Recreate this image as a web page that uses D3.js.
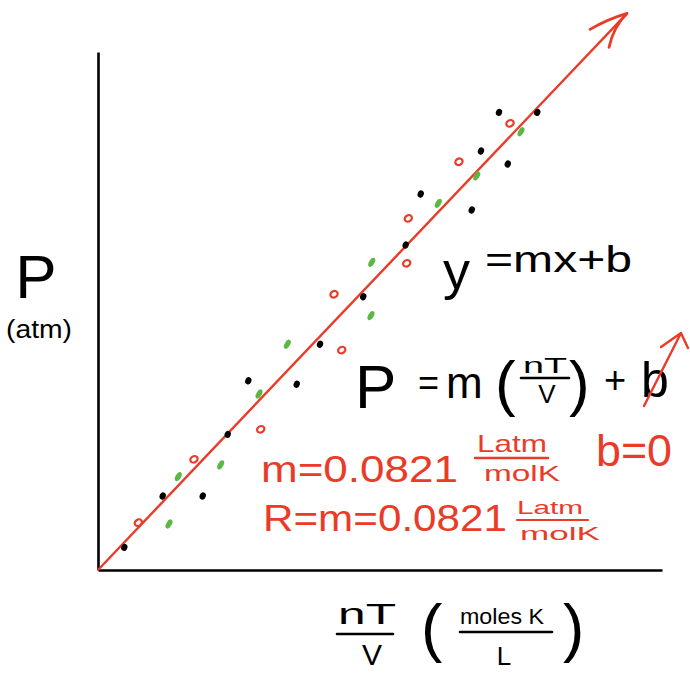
<!DOCTYPE html>
<html>
<head>
<meta charset="utf-8">
<script src="https://cdn.jsdelivr.net/npm/d3@7/dist/d3.min.js"></script>
<style>
  html, body { margin: 0; padding: 0; background: #fff; }
  svg { display: block; }
  text { font-family: "Liberation Sans", "DejaVu Sans", sans-serif; }
</style>
</head>
<body>
<svg id="chart" width="690" height="675"></svg>
<script>
// Measured pressure vs nT/V for three gas samples
const blackX = [28.0, 68.8, 111.4, 138.0, 159.9, 211.4, 236.2, 282.2, 327.3, 343.3, 397.6, 407.4, 435.9, 426.6, 467.3];
const blackY = [1.88, 6.14, 6.14, 11.26, 15.71, 15.42, 18.74, 22.69, 26.98, 31.21, 29.88, 34.78, 33.70, 37.99, 37.99];

const greenX = [75.5, 85.4, 130.5, 171.3, 201.4, 290.4, 291.2, 362.0, 402.9, 450.0];
const greenY = [3.82, 7.75, 8.72, 14.61, 18.74, 21.11, 25.54, 30.44, 32.71, 36.38];

const redX = [42.9, 102.1, 173.1, 259.3, 251.1, 328.4, 330.1, 384.0, 438.3];
const redY = [3.93, 9.19, 11.68, 18.26, 22.89, 25.46, 29.19, 33.89, 37.08];

// Best-fit line P = m (nT/V) + b
const slope = 0.0821;
const intercept = 0;
const fitRange = [0, 562.8];

const RED = "#ea3b28";
const GREEN = "#5cb845";
const BLACK = "#000";

const svg = d3.select("#chart");

const x = d3.scaleLinear().domain([0, 600]).range([98, 662]);
const y = d3.scaleLinear().domain([0, 43]).range([570, 52]);

// Axes: bare lines, no ticks
svg.append("g")
  .attr("transform", `translate(0,${y(0)})`)
  .call(d3.axisBottom(x).tickValues([]).tickSizeOuter(0))
  .select(".domain").attr("stroke", BLACK).attr("stroke-width", 2.6);
svg.append("g")
  .attr("transform", `translate(${x(0)},0)`)
  .call(d3.axisLeft(y).tickValues([]).tickSizeOuter(0))
  .select(".domain").attr("stroke", BLACK).attr("stroke-width", 2.6);

// Fit line with arrow at the end
const fitPts = fitRange.map(v => [v, slope * v + intercept]);
svg.append("path")
  .attr("d", d3.line().x(d => x(d[0])).y(d => y(d[1]))(fitPts))
  .attr("fill", "none").attr("stroke", RED).attr("stroke-width", 2.4);
const tip = [x(fitRange[1]), y(slope * fitRange[1] + intercept)];
svg.append("path")
  .attr("d", `M${tip[0] - 37},${tip[1] + 16} Q${tip[0] - 20},${tip[1] + 6} ${tip[0]},${tip[1]} Q${tip[0] - 14},${tip[1] + 14} ${tip[0] - 18},${tip[1] + 34}`)
  .attr("fill", "none").attr("stroke", RED).attr("stroke-width", 2.8)
  .attr("stroke-linecap", "round").attr("stroke-linejoin", "round");

// Data marks
const zip = (xs, ys) => xs.map((v, i) => [v, ys[i]]);

svg.append("g").selectAll("ellipse")
  .data(zip(greenX, greenY)).join("ellipse")
  .attr("cx", d => x(d[0])).attr("cy", d => y(d[1]))
  .attr("rx", 2.7).attr("ry", 5)
  .attr("transform", d => `rotate(30,${x(d[0])},${y(d[1])})`)
  .attr("fill", GREEN);

svg.append("g").selectAll("ellipse")
  .data(zip(blackX, blackY)).join("ellipse")
  .attr("cx", d => x(d[0])).attr("cy", d => y(d[1]))
  .attr("rx", 3.1).attr("ry", 3.7)
  .attr("transform", d => `rotate(20,${x(d[0])},${y(d[1])})`)
  .attr("fill", BLACK);

svg.append("g").selectAll("ellipse")
  .data(zip(redX, redY)).join("ellipse")
  .attr("cx", d => x(d[0])).attr("cy", d => y(d[1]))
  .attr("rx", 3.8).attr("ry", 3.1)
  .attr("transform", d => `rotate(-30,${x(d[0])},${y(d[1])})`)
  .attr("fill", "none").attr("stroke", RED).attr("stroke-width", 2.2);

// Text helpers
function txt(s, px, py, size, color, opts = {}) {
  const t = svg.append("text")
    .attr("x", px).attr("y", py)
    .attr("font-size", size).attr("fill", color)
    .attr("font-weight", opts.weight || 400)
    .text(s);
  if (opts.len) t.attr("textLength", opts.len).attr("lengthAdjust", "spacingAndGlyphs");
  if (opts.anchor) t.attr("text-anchor", opts.anchor);
  return t;
}
function bar(x1, x2, yy, color, w) {
  svg.append("line").attr("x1", x1).attr("x2", x2).attr("y1", yy).attr("y2", yy)
    .attr("stroke", color).attr("stroke-width", w || 2.6).attr("stroke-linecap", "round");
}

// Y axis label
txt("P", 36, 298, 62, BLACK, { anchor: "middle" });
txt("(atm)", 6, 338, 26, BLACK, { len: 66 });

// X axis label
txt("nT", 338, 624, 30, BLACK, { len: 58 });
bar(337, 393, 634, BLACK);
txt("V", 372, 665, 30, BLACK, { anchor: "middle" });
txt("(", 421, 650, 64, BLACK);
txt("moles K", 460, 624, 22, BLACK, { len: 84 });
bar(460, 552, 632, BLACK);
txt("L", 504, 665, 26, BLACK, { anchor: "middle" });
txt(")", 563, 650, 64, BLACK);

// y = mx + b
txt("y", 443, 289, 54, BLACK);
txt("=mx+b", 485, 272, 36, BLACK, { len: 147 });

// P = m(nT/V) + b
txt("P", 355, 408, 62, BLACK);
txt("=", 418, 395, 36, BLACK);
txt("m", 446, 398, 44, BLACK);
txt("(", 495, 404, 62, BLACK);
txt("nT", 523, 373, 22, BLACK, { len: 44 });
bar(521, 569, 378, BLACK);
txt("V", 547, 403, 26, BLACK, { anchor: "middle" });
txt(")", 569, 404, 62, BLACK);
txt("+", 604, 393, 38, BLACK);
txt("b", 641, 397, 50, BLACK);

// Strike-through arrow over b
svg.append("path")
  .attr("d", "M644,406 L681,333 M661,347 L681,333 L688,348")
  .attr("fill", "none").attr("stroke", RED).attr("stroke-width", 2.4)
  .attr("stroke-linecap", "round").attr("stroke-linejoin", "round");

// Fitted slope annotation
txt("m=0.0821", 261, 482, 36, RED, { len: 197 });
txt("Latm", 477, 452, 24, RED, { len: 70 });
bar(475, 548, 458, RED);
txt("molK", 484, 481, 22, RED, { len: 76 });
txt("b=0", 596, 466, 44, RED, { len: 76 });

txt("R=m=0.0821", 263, 531, 36, RED, { len: 244 });
txt("Latm", 517, 514, 19, RED, { len: 66 });
bar(517, 588, 520, RED, 2.2);
txt("molK", 520, 540, 19, RED, { len: 80 });
</script>
</body>
</html>
